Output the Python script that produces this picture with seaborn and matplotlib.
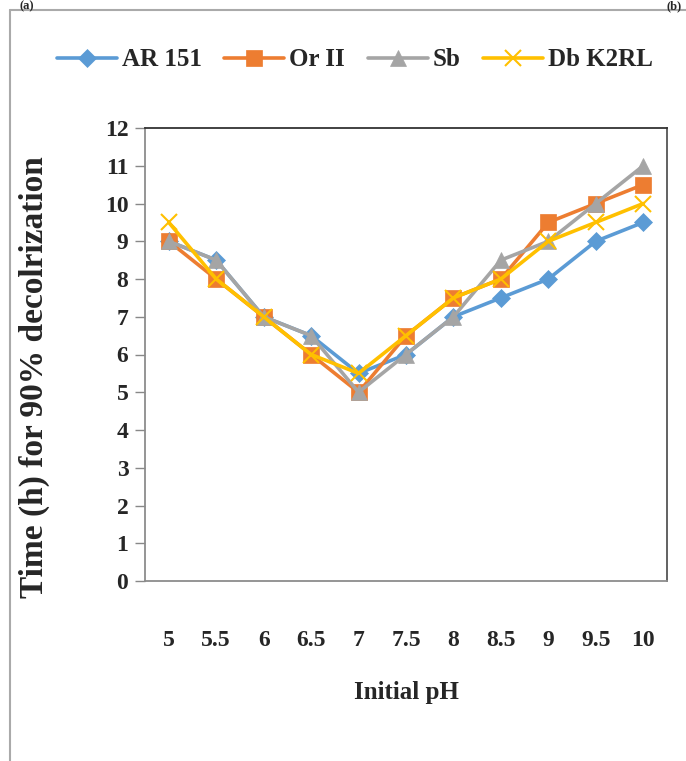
import matplotlib
matplotlib.use("Agg")
import matplotlib.pyplot as plt
import seaborn as sns
import pandas as pd
from matplotlib.lines import Line2D

ph_labels = ["5", "5.5", "6", "6.5", "7", "7.5", "8", "8.5", "9", "9.5", "10"]
ar151 = [9, 8.5, 7, 6.5, 5.5, 6, 7, 7.5, 8, 9, 9.5]
or2 = [9, 8, 7, 6, 5, 6.5, 7.5, 8, 9.5, 10, 10.5]
sb = [9, 8.5, 7, 6.5, 5, 6, 7, 8.5, 9, 10, 11]
dbk2rl = [9.5, 8, 7, 6, 5.5, 6.5, 7.5, 8, 9, 9.5, 10]

series_names = ["AR 151", "Or II", "Sb", "Db K2RL"]
series_vals = [ar151, or2, sb, dbk2rl]
colors = ["#5B9BD5", "#ED7D31", "#A5A5A5", "#FFC000"]
markers = ["D", "s", "^", "x"]
msizes = [9, 11, 11, 12]

sns.set_theme(style="white")
plt.rcParams['font.family'] = ['Liberation Serif', 'DejaVu Serif']
plt.rcParams['font.weight'] = 'bold'

fig = plt.figure(figsize=(6.86, 7.61), dpi=100)
ax = fig.add_axes([145/686, 1-581/761, (667-145)/686, (581-128)/761])

rows = []
for name, vals in zip(series_names, series_vals):
    for i, v in enumerate(vals):
        rows.append({"idx": i, "val": v, "series": name})
df = pd.DataFrame(rows)

for name, c, m, ms in zip(series_names, colors, markers, msizes):
    sub = df[df.series == name]
    sns.lineplot(data=sub, x="idx", y="val", ax=ax, color=c, lw=2.6,
                 marker=m, markersize=ms, markeredgecolor=c,
                 markeredgewidth=1.5 if m == "x" else 0.5, legend=False)

ax.set_xlim(-0.5, len(ph_labels) - 0.5)
ax.set_ylim(0, 12)
ax.set_yticks(range(0, 13))
ax.set_xticks(range(len(ph_labels)))
ax.set_xticklabels(ph_labels)
ax.tick_params(axis='y', direction='out', length=7, width=1, color='#888888',
               labelsize=17, pad=5, left=True)
ax.tick_params(axis='x', length=0, labelsize=17, pad=35)
for lab in ax.get_xticklabels() + ax.get_yticklabels():
    lab.set_fontweight('bold')

for side, col in [("left", "#8c8c8c"), ("bottom", "#8c8c8c"), ("top", "#333333"), ("right", "#555555")]:
    ax.spines[side].set_visible(True)
    ax.spines[side].set_color(col)
    ax.spines[side].set_linewidth(1.3)

ax.set_xlabel("Initial pH", fontsize=18, fontweight='bold', labelpad=22)
ax.set_ylabel("Time (h) for 90% decolrization", fontsize=24, fontweight='bold')
ax.yaxis.set_label_coords((50 - 145) / (667 - 145), (581 - 377) / (581 - 128))

handles = [Line2D([0], [0], color=c, lw=2.6, marker=m, markersize=ms, markeredgecolor=c,
                  markeredgewidth=1.5 if m == "x" else 0.5)
           for c, m, ms in zip(colors, markers, msizes)]
fig.legend(handles, series_names, loc='center', bbox_to_anchor=(355/686, 1-60/761),
           ncol=4, frameon=False, handlelength=2.4, handletextpad=0.2,
           columnspacing=0.9, prop={'weight': 'bold', 'size': 18})

# outer frame
fig.add_artist(Line2D([10/686, 10/686], [0, 1-10/761], transform=fig.transFigure,
                      color='#aaaaaa', lw=1.5))
fig.add_artist(Line2D([10/686, 1], [1-10/761, 1-10/761], transform=fig.transFigure,
                      color='#aaaaaa', lw=1.5))
fig.text(20/686, 1-0.5/761, "(a)", fontsize=9, fontweight='bold', va='top', ha='left')
fig.text(682/686, 1-0.5/761, "(b)", fontsize=9, fontweight='bold', va='top', ha='right')

fig.savefig("out.png", dpi=100)
